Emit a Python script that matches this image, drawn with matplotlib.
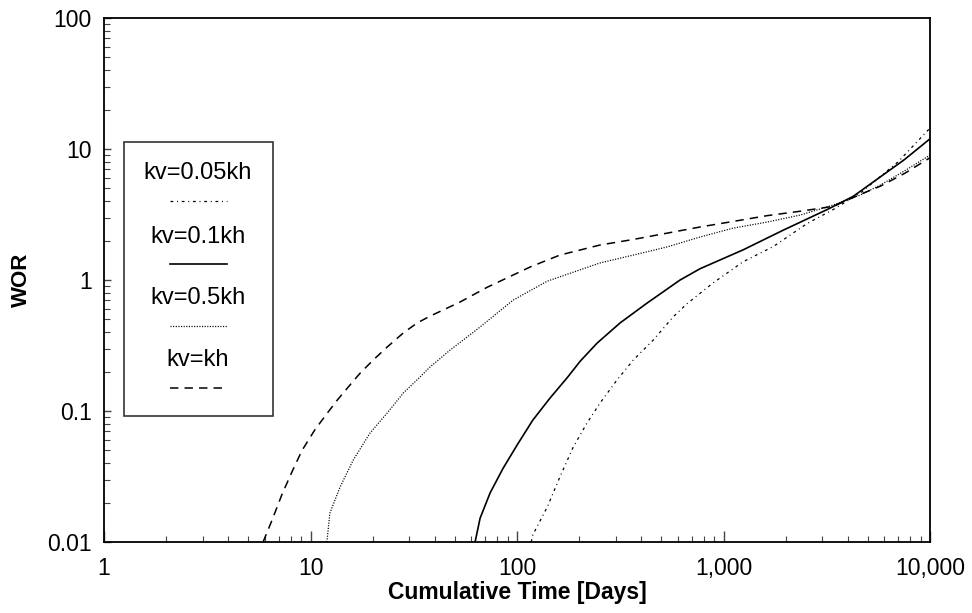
import matplotlib
matplotlib.use("Agg")
import matplotlib.pyplot as plt
from matplotlib.lines import Line2D
from matplotlib.patches import Rectangle

plt.rcParams['font.family'] = ['Liberation Sans', 'DejaVu Sans']

# kv = 0.05kh  (dash-dot)
t_005 = [117, 119, 140, 161, 187, 218, 252, 305, 365, 456, 569, 665, 889, 1243,
         1738, 2537, 3390, 4580, 7000, 10000]
wor_005 = [0.01, 0.0113, 0.0185, 0.0313, 0.0531, 0.081, 0.115, 0.173, 0.245, 0.348,
           0.522, 0.66, 0.95, 1.38, 1.8, 2.7, 3.45, 4.6, 8.0, 14.5]

# kv = 0.1kh  (solid)
t_01 = [62.6, 66.2, 74.0, 85.5, 100, 119, 144, 175, 202, 244, 315, 426, 615, 769,
        1243, 1941, 3171, 4236, 5297, 7500, 10000]
wor_01 = [0.01, 0.0152, 0.0237, 0.0365, 0.055, 0.085, 0.125, 0.18, 0.24, 0.33,
          0.47, 0.667, 1.0, 1.22, 1.7, 2.4, 3.45, 4.35, 5.6, 8.3, 12.0]

# kv = 0.5kh  (dotted)
t_05 = [12.0, 12.4, 13.9, 16.1, 19.4, 23.5, 28.1, 33.9, 37.9, 47.4, 66.2, 95.7, 140,
        252, 365, 533, 769, 1112, 1624, 2346, 3390, 4580, 5730, 7500, 10000]
wor_05 = [0.01, 0.0166, 0.0263, 0.0423, 0.0679, 0.0966, 0.137, 0.182, 0.217, 0.292,
          0.438, 0.703, 0.98, 1.35, 1.55, 1.79, 2.13, 2.49, 2.77, 3.13, 3.74, 4.45,
          5.3, 6.8, 9.0]

# kv = kh  (dashed)
t_1 = [5.89, 6.51, 7.28, 8.14, 9.09, 10.5, 12.0, 13.4, 15.2, 17.4, 20.1, 23.5, 28.1,
       32.8, 37.9, 53, 71.6, 116, 161, 252, 365, 533, 769, 1112, 1624, 2346, 3390,
       4580, 5730, 7500, 10000]
wor_1 = [0.01, 0.0147, 0.0232, 0.0345, 0.05, 0.072, 0.0955, 0.12, 0.152, 0.195,
         0.245, 0.308, 0.394, 0.47, 0.53, 0.68, 0.88, 1.26, 1.55, 1.85, 2.04, 2.28,
         2.54, 2.8, 3.1, 3.35, 3.65, 4.5, 5.2, 6.5, 8.6]

labels = ['kv=0.05kh', 'kv=0.1kh', 'kv=0.5kh', 'kv=kh']

x_ticks = [1, 10, 100, 1000, 10000]
x_ticklabels = ['1', '10', '100', '1,000', '10,000']
y_ticks = [0.01, 0.1, 1, 10, 100]
y_ticklabels = ['0.01', '0.1', '1', '10', '100']

fig = plt.figure(figsize=(9.72, 6.13), dpi=100)
ax = fig.add_axes([0.107, 0.1158, 0.850, 0.8548])

styles = [
    dict(color='black', lw=0.9, dashes=(2.2, 3.0, 0.8, 3.0)),
    dict(color='black', lw=1.2, linestyle='-'),
    dict(color='black', lw=0.9, dashes=(0.9, 1.2)),
    dict(color='black', lw=1.1, dashes=(5.5, 4.0)),
]
series = [(t_005, wor_005), (t_01, wor_01), (t_05, wor_05), (t_1, wor_1)]
for (t, w), st in zip(series, styles):
    ax.plot(t, w, **st)

ax.set_xscale('log')
ax.set_yscale('log')
ax.set_xlim(1, 10000)
ax.set_ylim(0.01, 100)
ax.set_xticks(x_ticks)
ax.set_xticklabels(x_ticklabels)
ax.set_yticks(y_ticks)
ax.set_yticklabels(y_ticklabels)
ax.tick_params(which='both', direction='in', top=False, right=False,
               labelsize=16.5, color='#444444')
ax.tick_params(axis='x', which='major', length=8, width=1.0, pad=10.5)
ax.tick_params(axis='y', which='major', length=5, width=1.0, pad=9)
ax.tick_params(which='minor', length=4.5, width=0.8)
for s in ax.spines.values():
    s.set_linewidth(1.3)

ax.set_xlabel('Cumulative Time [Days]', fontsize=16.5, fontweight='bold', labelpad=1)
ax.set_ylabel('WOR', fontsize=16, fontweight='bold', labelpad=11)

# legend box: label text above each line sample
ax.add_patch(Rectangle((0.0242, 0.240), 0.1804, 0.523, transform=ax.transAxes,
                       fill=False, edgecolor='#333333', lw=1.2, zorder=5))
text_y = [0.704, 0.582, 0.466, 0.347]
line_y = [0.651, 0.531, 0.412, 0.294]
for lab, ty, ly, st in zip(labels, text_y, line_y, styles):
    ax.text(0.1138, ty, lab, transform=ax.transAxes, ha='center', va='center',
            fontsize=17)
    ax.add_line(Line2D([0.0799, 0.1489], [ly, ly], transform=ax.transAxes, **st))

fig.savefig('out.png', dpi=100)
